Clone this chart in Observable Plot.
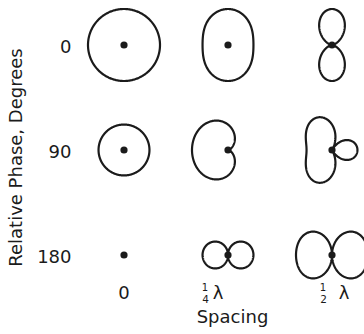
<!DOCTYPE html>
<html><head><meta charset="utf-8">
<script src="https://cdn.jsdelivr.net/npm/d3@7"></script>
<script src="https://cdn.jsdelivr.net/npm/@observablehq/plot@0.6"></script>
<style>body{margin:0;background:#fff}</style>
</head><body><div id="chart"></div>
<script>
// Rows: relative phase of the two isotropic sources (degrees)
const phases = [0, 90, 180];
const phaseLabels = ["0", "90", "180"];
// Columns: spacing between sources (wavelengths)
const spacings = [0, 0.25, 0.5];
const spacingFractions = ["", "1/4", "1/2"];
const spacingSymbols = ["0", "λ", "λ"];
const yTitle = "Relative Phase, Degrees";
const xTitle = "Spacing";

// Radiation pattern of two isotropic point sources: E = |cos((βd·cosθ + δ)/2)|
const xRange = [123.5, 331.5], yRange = [44.5, 254.5];
const pxX = (xRange[1] - xRange[0]) / 2, pxY = (yRange[1] - yRange[0]) / 2;
const unitRadius = 36; // px for full field
const angles = d3.range(0, 361, 1);
const curves = [];
const centers = [];
phases.forEach((p, r) => spacings.forEach((s, c) => {
  centers.push({x: c, y: r});
  angles.forEach(a => {
    const th = a * Math.PI / 180;
    const psi = 2 * Math.PI * s * Math.cos(th) + p * Math.PI / 180;
    const e = Math.abs(Math.cos(psi / 2));
    curves.push({id: r * 3 + c, x: c + unitRadius / pxX * e * Math.cos(th), y: r + unitRadius / pxY * e * Math.sin(th), e});
  });
}));
const visibleIds = new Set(curves.filter(d => d.e > 0.01).map(d => d.id));

const font = "DejaVu Sans";
const ink = "#1b1b1b";
const cols = spacings.map((s, i) => i);
// per-column label offsets (px) for the fraction and λ
const symDx = [0, -10, 12];
const fracDx = [0, -23, -9];

const marks = [
  Plot.line(curves.filter(d => visibleIds.has(d.id)), {x: "x", y: "y", z: "id", stroke: ink, strokeWidth: 2.2, curve: "linear", strokeLinejoin: "round"}),
  Plot.dot(centers, {x: "x", y: "y", r: 3.6, fill: ink, stroke: null}),
  Plot.text(phaseLabels, {y: (d, i) => i, text: d => d, frameAnchor: "left", dx: 71, dy: 2, textAnchor: "end", fontSize: 18, fill: ink}),
  Plot.text([yTitle], {frameAnchor: "left", dx: 16, dy: -10, rotate: -90, textAnchor: "middle", fontSize: 18, fill: ink, text: d => d}),
  Plot.text([xTitle], {frameAnchor: "bottom", dx: 50, dy: -12, textAnchor: "middle", fontSize: 18, fill: ink, text: d => d})
];
cols.forEach(i => {
  marks.push(Plot.text([spacingSymbols[i]], {x: [i], frameAnchor: "bottom", dx: symDx[i], dy: -36, fontSize: 18, fill: ink, text: d => d}));
  if (spacingFractions[i]) {
    const [num, den] = spacingFractions[i].split("/");
    marks.push(Plot.text([num], {x: [i], frameAnchor: "bottom", dx: fracDx[i], dy: -44, fontSize: 10, fill: ink, text: d => d}));
    marks.push(Plot.text([den], {x: [i], frameAnchor: "bottom", dx: fracDx[i] + 0.5, dy: -31.5, fontSize: 10.5, fill: ink, text: d => d}));
  }
});

const chart = Plot.plot({
  width: 364, height: 334,
  margin: 0,
  x: {domain: [0, 2], range: xRange, axis: null},
  y: {domain: [0, 2], range: yRange, axis: null},
  style: {fontFamily: font, background: "#fff", overflow: "visible"},
  marks
});
document.getElementById("chart").append(chart);
</script></body></html>
